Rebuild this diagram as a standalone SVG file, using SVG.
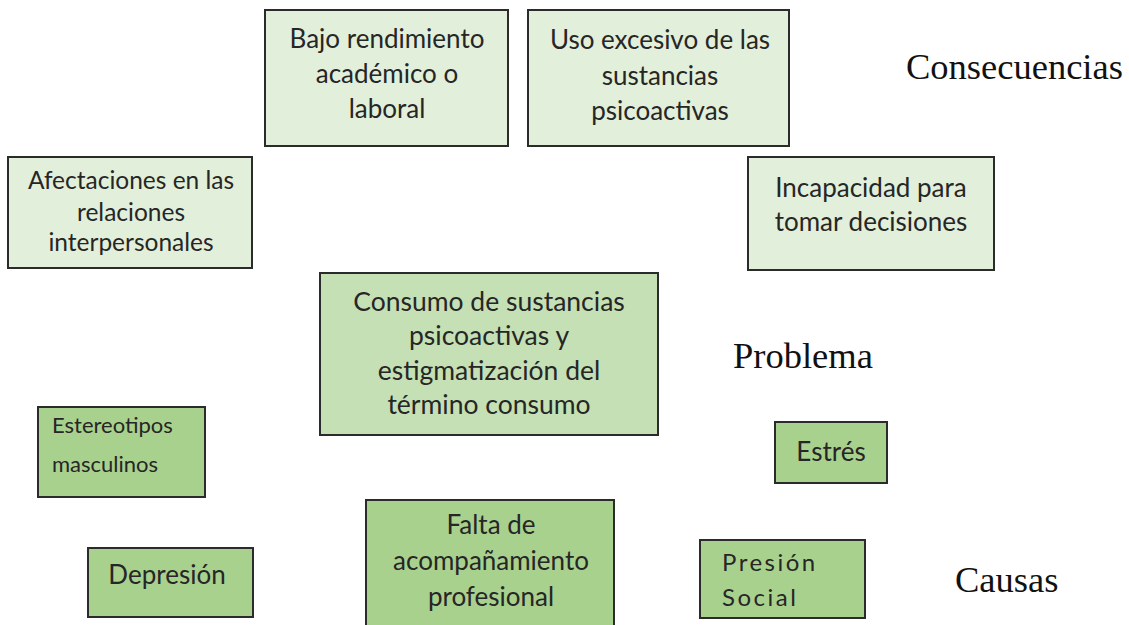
<svg xmlns="http://www.w3.org/2000/svg" width="1129" height="625" viewBox="0 0 1129 625">
<style>
.b{stroke:#2b2b2b;stroke-width:2}
.c1{fill:#e2efda}.c2{fill:#c5e0b4}.c3{fill:#a9d18e}
text{font-family:Lato,"Liberation Sans",sans-serif;fill:#262626}
.t{font-size:26px;text-anchor:middle}
.l{font-size:22px}
.h{font-family:"Liberation Serif",serif;font-size:36.5px;fill:#111}
</style>
<rect width="1129" height="625" fill="#fff"/>
<g id="n-bajo"><rect class="b c1" x="265" y="10" width="243" height="136"/>
<text class="t" x="387" y="48">Bajo rendimiento</text><text class="t" x="387" y="83">académico o</text><text class="t" x="387" y="118">laboral</text></g>
<g id="n-uso"><rect class="b c1" x="528" y="10" width="261" height="136"/>
<text class="t" x="660" y="49">Uso excesivo de las</text><text class="t" x="660" y="85">sustancias</text><text class="t" x="660" y="120">psicoactivas</text></g>
<g id="n-afect"><rect class="b c1" x="8" y="157" width="244" height="111"/>
<text class="t" x="131" y="189" style="font-size:24.5px">Afectaciones en las</text><text class="t" x="131" y="221" style="font-size:24.5px">relaciones</text><text class="t" x="131" y="251" style="font-size:24.5px">interpersonales</text></g>
<g id="n-incap"><rect class="b c1" x="748" y="157" width="246" height="113"/>
<text class="t" x="871" y="197">Incapacidad para</text><text class="t" x="871" y="231">tomar decisiones</text></g>
<g id="n-consumo"><rect class="b c2" x="320" y="273" width="338" height="162"/>
<text class="t" x="489" y="311" style="font-size:26.5px">Consumo de sustancias</text><text class="t" x="489" y="345" style="font-size:26.5px">psicoactivas y</text><text class="t" x="489" y="380" style="font-size:26.5px">estigmatización del</text><text class="t" x="489" y="414" style="font-size:26.5px">término consumo</text></g>
<g id="n-estereo"><rect class="b c3" x="38" y="407" width="167" height="90"/>
<text class="l" x="52" y="433">Estereotipos</text><text class="l" x="52" y="472">masculinos</text></g>
<g id="n-estres"><rect class="b c3" x="775" y="422" width="112" height="61"/>
<text class="t" x="831" y="461">Estrés</text></g>
<g id="n-depre"><rect class="b c3" x="88" y="548" width="165" height="69"/>
<text class="t" x="167" y="584">Depresión</text></g>
<g id="n-falta"><rect class="b c3" x="366" y="500" width="248" height="130"/>
<text class="t" x="491" y="534">Falta de</text><text class="t" x="491" y="570">acompañamiento</text><text class="t" x="491" y="606">profesional</text></g>
<g id="n-presion"><rect class="b c3" x="700" y="540" width="165" height="78"/>
<text class="l" x="722" y="571" style="font-size:24px;letter-spacing:2.5px">Presión</text><text class="l" x="722" y="606" style="font-size:24px;letter-spacing:2.5px">Social</text></g>
<g id="connectors"></g>
<text class="h" x="906" y="79">Consecuencias</text>
<text class="h" x="733" y="368">Problema</text>
<text class="h" x="955" y="592">Causas</text>
</svg>
